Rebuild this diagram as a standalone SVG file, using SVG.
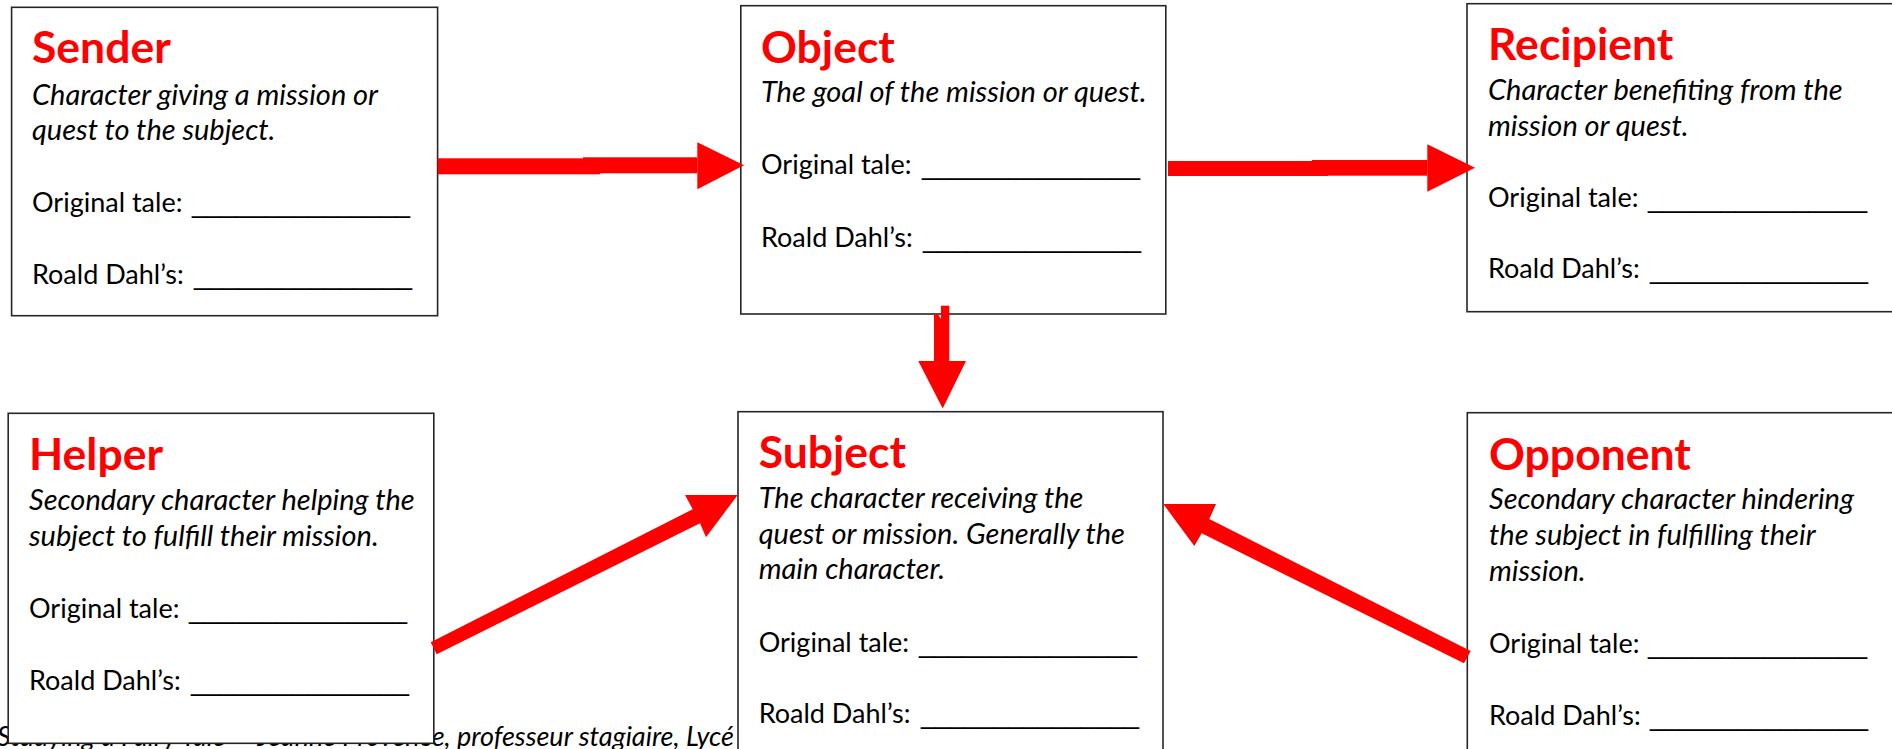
<svg xmlns="http://www.w3.org/2000/svg" width="1892" height="749" viewBox="0 0 1892 749">
  <style>
    .box { fill: #ffffff; stroke: #262626; stroke-width: 1.6; }
    .title { font-family: "Lato", "Liberation Sans", sans-serif; font-weight: 700; font-size: 44.5px; fill: #ff0000; }
    .desc { font-family: "Lato", "Liberation Sans", sans-serif; font-style: italic; font-size: 29px; fill: #000000; }
    .foot { font-family: "Lato", "Liberation Sans", sans-serif; font-style: italic; font-size: 27px; fill: #000000; }
    .fld { font-family: "Lato", "Liberation Sans", sans-serif; font-size: 27px; fill: #000000; }
    .blank { font-family: "Liberation Sans", sans-serif; font-size: 27px; fill: #000000; }
    .arrow { fill: #ff0000; stroke: none; }
  </style>

  <!-- running footer, mostly hidden behind the boxes -->
  <text class="foot" x="734" y="746" text-anchor="end">Studying a Fairy Tale — Jeanne Provence, professeur stagiaire, Lycé</text>

  <g id="sender">
    <rect class="box" x="11.6" y="7.3" width="426" height="308.4"/>
    <text class="title" x="32" y="63">Sender</text>
    <text class="desc" x="32" y="105">Character giving a mission or</text>
    <text class="desc" x="32" y="140">quest to the subject.</text>
    <text class="fld" x="32" y="212">Original tale:</text>
    <text class="blank" x="192" y="212" textLength="218" lengthAdjust="spacingAndGlyphs">_______________</text>
    <text class="fld" x="32" y="284">Roald Dahl’s:</text>
    <text class="blank" x="194" y="284" textLength="218" lengthAdjust="spacingAndGlyphs">_______________</text>
  </g>

  <g id="object">
    <rect class="box" x="740.8" y="5.7" width="425" height="308.3"/>
    <text class="title" x="761" y="62.7">Object</text>
    <text class="desc" x="761" y="101.7">The goal of the mission or quest.</text>
    <text class="fld" x="761" y="174">Original tale:</text>
    <text class="blank" x="922" y="174" textLength="218" lengthAdjust="spacingAndGlyphs">_______________</text>
    <text class="fld" x="761" y="246.7">Roald Dahl’s:</text>
    <text class="blank" x="923" y="246.7" textLength="218" lengthAdjust="spacingAndGlyphs">_______________</text>
  </g>

  <g id="recipient">
    <rect class="box" x="1467" y="3.7" width="440" height="308"/>
    <text class="title" x="1488" y="60">Recipient</text>
    <text class="desc" x="1488" y="100">Character benefiting from the</text>
    <text class="desc" x="1488" y="136">mission or quest.</text>
    <text class="fld" x="1488" y="206.7">Original tale:</text>
    <text class="blank" x="1648" y="206.7" textLength="219" lengthAdjust="spacingAndGlyphs">_______________</text>
    <text class="fld" x="1488" y="278">Roald Dahl’s:</text>
    <text class="blank" x="1650" y="278" textLength="218" lengthAdjust="spacingAndGlyphs">_______________</text>
  </g>

  <g id="helper">
    <rect class="box" x="8.2" y="413.3" width="425.6" height="330"/>
    <text class="title" x="29" y="470">Helper</text>
    <text class="desc" x="29" y="510">Secondary character helping the</text>
    <text class="desc" x="29" y="545.7">subject to fulfill their mission.</text>
    <text class="fld" x="29" y="618">Original tale:</text>
    <text class="blank" x="189" y="618" textLength="218" lengthAdjust="spacingAndGlyphs">_______________</text>
    <text class="fld" x="29" y="690">Roald Dahl’s:</text>
    <text class="blank" x="191" y="690" textLength="218" lengthAdjust="spacingAndGlyphs">_______________</text>
  </g>

  <g id="subject">
    <rect class="box" x="738" y="411.7" width="425" height="360"/>
    <text class="title" x="758.7" y="468">Subject</text>
    <text class="desc" x="758.7" y="508">The character receiving the</text>
    <text class="desc" x="758.7" y="543.5">quest or mission. Generally the</text>
    <text class="desc" x="758.7" y="579">main character.</text>
    <text class="fld" x="758.7" y="652">Original tale:</text>
    <text class="blank" x="919" y="652" textLength="218" lengthAdjust="spacingAndGlyphs">_______________</text>
    <text class="fld" x="758.7" y="723">Roald Dahl’s:</text>
    <text class="blank" x="921" y="723" textLength="218" lengthAdjust="spacingAndGlyphs">_______________</text>
  </g>

  <g id="opponent">
    <rect class="box" x="1467.3" y="412.7" width="440" height="360"/>
    <text class="title" x="1489" y="470">Opponent</text>
    <text class="desc" x="1489" y="509">Secondary character hindering</text>
    <text class="desc" x="1489" y="545">the subject in fulfilling their</text>
    <text class="desc" x="1489" y="581">mission.</text>
    <text class="fld" x="1489" y="653">Original tale:</text>
    <text class="blank" x="1648" y="653" textLength="219" lengthAdjust="spacingAndGlyphs">_______________</text>
    <text class="fld" x="1489" y="725">Roald Dahl’s:</text>
    <text class="blank" x="1650" y="725" textLength="218" lengthAdjust="spacingAndGlyphs">_______________</text>
  </g>

  <g id="connectors">
    <!-- Sender to Object -->
    <g id="sender-object">
      <rect class="arrow" x="437.7" y="158.3" width="162.3" height="16"/>
      <rect class="arrow" x="583" y="157.3" width="114.3" height="16"/>
      <polygon class="arrow" points="697.3,142.3 744,165.3 697.3,189.3"/>
    </g>
    <!-- Object to Recipient -->
    <g id="object-recipient">
      <rect class="arrow" x="1168" y="161" width="160" height="15"/>
      <rect class="arrow" x="1312" y="160" width="115.3" height="15.7"/>
      <polygon class="arrow" points="1427.3,144.3 1475,167.7 1427.3,191.7"/>
    </g>
    <!-- Object to Subject -->
    <g id="object-subject">
      <rect class="arrow" x="941" y="305.7" width="8.3" height="56"/>
      <polygon class="arrow" points="934,314 938,314 941,319 941,361.7 934,361.7"/>
      <polygon class="arrow" points="918.3,361 966,361 942.7,408.5"/>
    </g>
    <!-- Helper to Subject -->
    <polygon id="helper-subject" class="arrow" points="436.7,654.3 430.7,642.3 692.7,509.3 685,495 737.7,495 706,537.3 700,523.3"/>
    <!-- Opponent to Subject -->
    <polygon id="opponent-subject" class="arrow" points="1470.7,651 1464,663.3 1201.7,533.3 1194.3,546 1163.3,504 1216,504 1209.3,519"/>
  </g>
</svg>
